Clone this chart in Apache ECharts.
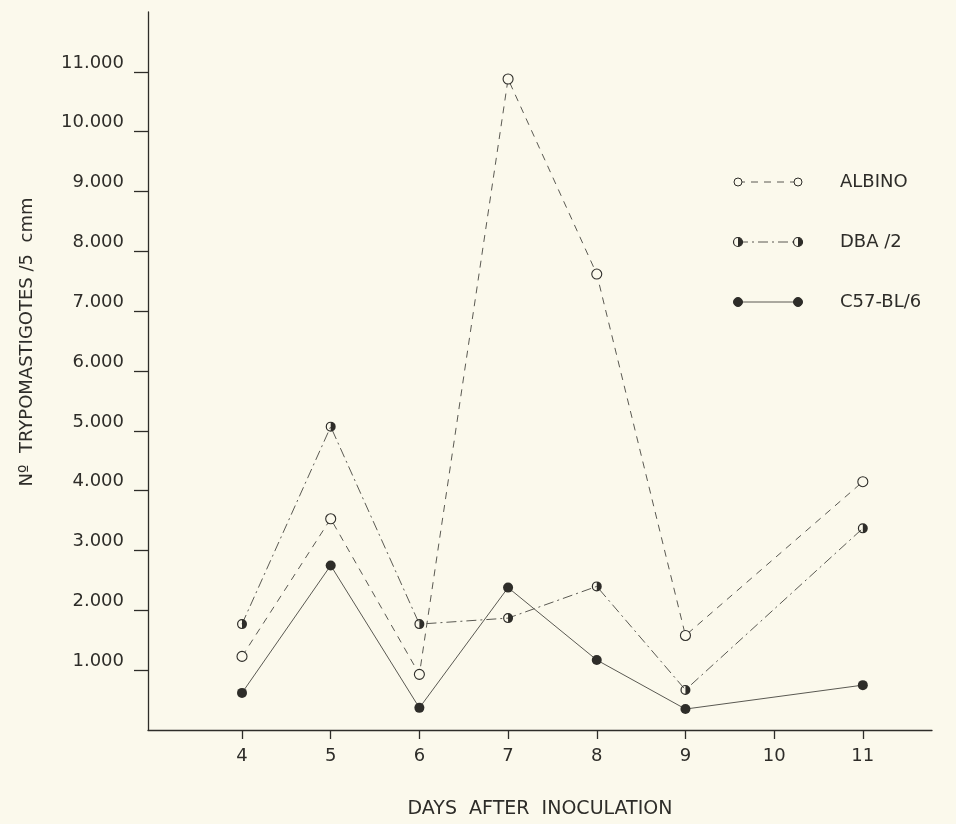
<!DOCTYPE html>
<html>
<head>
<meta charset="utf-8">
<script src="https://cdn.jsdelivr.net/npm/echarts@6/dist/echarts.min.js"></script>
<style>
  html, body { margin: 0; padding: 0; background: #fbf9ec; }
  #chart { width: 956px; height: 824px; }
</style>
</head>
<body>
<div id="chart"></div>
<script>
// days after inoculation
const days = [4, 5, 6, 7, 8, 9, 11]
const dayTicks = [4, 5, 6, 7, 8, 9, 10, 11]
const yTicks = [1000, 2000, 3000, 4000, 5000, 6000, 7000, 8000, 9000, 10000, 11000]

// trypomastigotes / 5 cmm
const albino = [1230, 3530, 930, 10880, 7620, 1580, 4150]
const dba2 = [1770, 5070, 1770, 1870, 2400, 670, 3370]
const c57 = [620, 2750, 370, 2380, 1170, 350, 750]

const names = ['ALBINO', 'DBA /2', 'C57-BL/6']

const INK = '#2e2d29'
const LINE = '#5a5952'
const BG = '#fbf9ec'
const FONT = 'DejaVu Sans'

// ring + right half disc -> half filled circle
const HALF = 'path://M0,-10A10,10 0 1,1 0,10A10,10 0 1,1 0,-10Z' +
  'M0,-7.6A7.6,7.6 0 1,0 0,7.6A7.6,7.6 0 1,0 0,-7.6Z' +
  'M0,-7.6A7.6,7.6 0 0,1 0,7.6Z'

const pairs = arr => days.map((d, i) => [d, arr[i]])

const chart = echarts.init(document.getElementById('chart'), null, { renderer: 'canvas' })

const styles = [
  { data: albino, dash: [7, 6], symbol: 'circle', item: { color: BG, borderColor: INK, borderWidth: 1.1 } },
  { data: dba2, dash: [10, 4, 2, 4], symbol: HALF, item: { color: INK } },
  { data: c57, dash: 'solid', symbol: 'circle', item: { color: INK } }
]

// legend drawn by hand: marker - line - marker, then the name
const legendGraphics = names.map((n, i) => {
  const s = styles[i]
  const y = 182 + i * 60
  const mk = x => {
    if (i === 1) {
      return {
        type: 'group',
        children: [
          { type: 'circle', shape: { cx: x, cy: y, r: 4.5 }, style: { fill: BG, stroke: INK, lineWidth: 1.2 } },
          { type: 'sector', shape: { cx: x, cy: y, r: 4.5, r0: 0, startAngle: -Math.PI / 2, endAngle: Math.PI / 2 }, style: { fill: INK } }
        ]
      }
    }
    return { type: 'circle', shape: { cx: x, cy: y, r: i === 0 ? 4 : 4.5 }, style: { fill: i === 0 ? BG : INK, stroke: INK, lineWidth: 1 } }
  }
  return {
    type: 'group',
    children: [
      { type: 'line', shape: { x1: 738, y1: y, x2: 798, y2: y }, style: { stroke: LINE, lineWidth: 1, lineDash: s.dash === 'solid' ? null : s.dash } },
      mk(738),
      mk(798),
      { type: 'text', x: 840, y: y, style: { text: n, fill: INK, font: '18px "' + FONT + '"', verticalAlign: 'middle' } }
    ]
  }
})

chart.setOption({
  backgroundColor: BG,
  animation: false,
  grid: { left: 148, right: 24, top: 12, bottom: 91, containLabel: false },
  xAxis: {
    type: 'value',
    min: 2.94,
    max: 11.78,
    name: 'DAYS  AFTER  INOCULATION',
    nameLocation: 'middle',
    nameGap: 70,
    nameTextStyle: { color: INK, fontFamily: FONT, fontSize: 19 },
    axisLine: { lineStyle: { color: INK, width: 1.3 } },
    axisTick: { show: true, customValues: dayTicks, length: 9, lineStyle: { color: INK, width: 1.3 } },
    axisLabel: { customValues: dayTicks, color: INK, fontFamily: FONT, fontSize: 18, margin: 17 },
    splitLine: { show: false }
  },
  yAxis: {
    type: 'value',
    min: 0,
    max: 12000,
    name: 'Nº  TRYPOMASTIGOTES /5  cmm',
    nameLocation: 'middle',
    nameGap: 112,
    nameRotate: 90,
    nameTextStyle: { color: INK, fontFamily: FONT, fontSize: 18, padding: [0, 0, 0, 58] },
    axisLine: { show: true, lineStyle: { color: INK, width: 1.3 } },
    axisTick: { show: true, customValues: yTicks, length: 14, lineStyle: { color: INK, width: 1.3 } },
    axisLabel: {
      customValues: yTicks,
      color: INK,
      fontFamily: FONT,
      fontSize: 18,
      margin: 24,
      verticalAlign: 'bottom',
      formatter: v => (v / 1000).toFixed(3)
    },
    splitLine: { show: false }
  },
  series: styles.map((s, i) => ({
    name: names[i],
    type: 'line',
    data: pairs(s.data),
    symbol: s.symbol,
    symbolSize: 10,
    lineStyle: { color: LINE, width: 1, type: s.dash },
    itemStyle: s.item,
    z: 3 + i
  })),
  graphic: legendGraphics
})
</script>
</body>
</html>
